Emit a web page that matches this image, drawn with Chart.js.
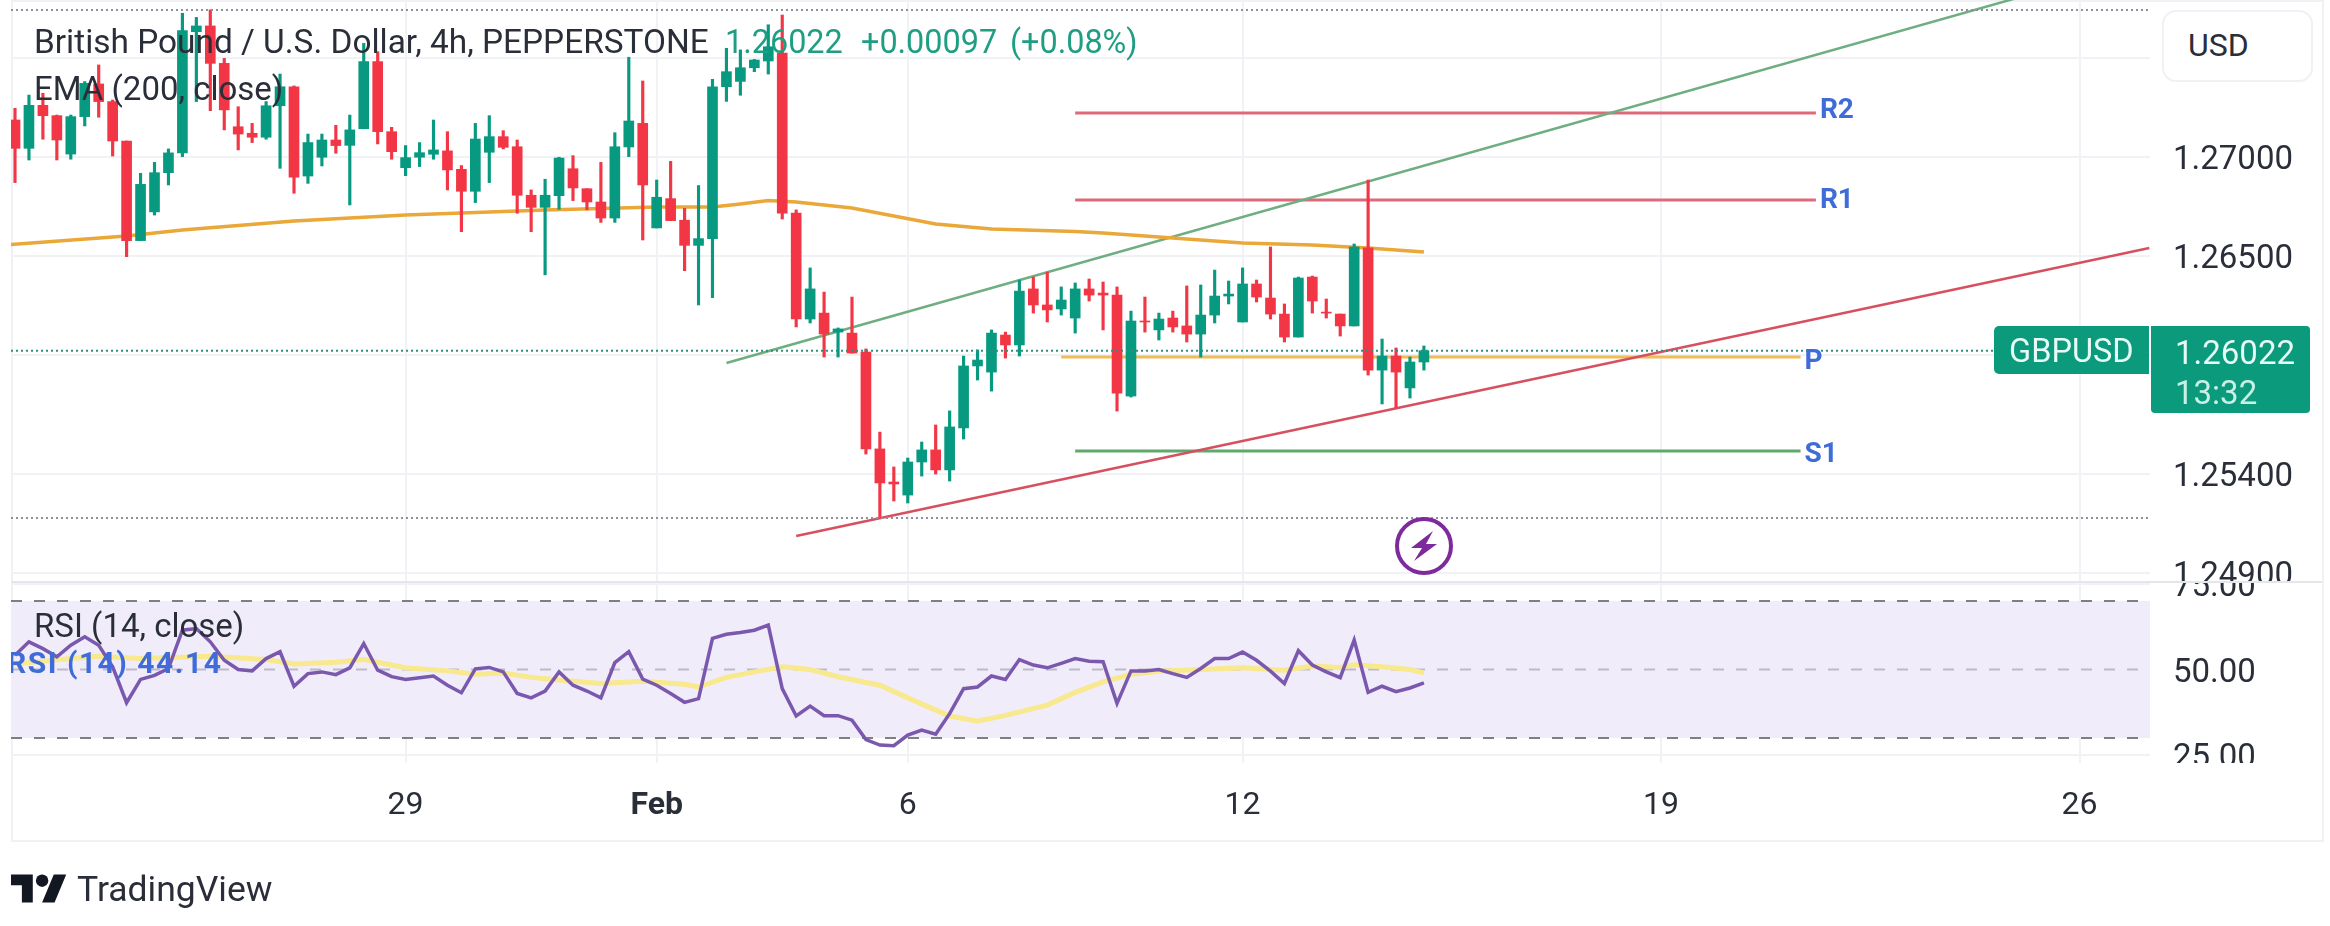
<!DOCTYPE html>
<html><head><meta charset="utf-8">
<script src="https://cdn.jsdelivr.net/npm/chart.js@4"></script>
<style>
html,body{margin:0;padding:0;background:#fff;width:2330px;height:926px;overflow:hidden}
#wrap{position:relative;width:2330px;height:926px;font-family:Roboto,sans-serif;color:#2a2e39;filter:blur(.6px)}
canvas{position:absolute;left:0}
.t{position:absolute;white-space:nowrap;line-height:1}
</style></head><body><div id="wrap">
<div style="position:absolute;left:11px;top:0;width:2309px;height:838px;border:2px solid #f0f1f5"></div>
<canvas id="price" width="2330" height="582" style="top:0"></canvas>
<canvas id="rsi" width="2330" height="257" style="top:582px"></canvas>
<div style="position:absolute;left:11px;top:581px;width:2311px;height:2px;background:#e4e6ec"></div>
<div class="t" style="left:34px;top:25px;font-size:33.4px">British Pound / U.S. Dollar, 4h, PEPPERSTONE</div>
<div class="t" style="left:725px;top:26px;font-size:32.4px;color:#1f9e83">1.26022</div>
<div class="t" style="left:861px;top:26px;font-size:32.4px;color:#1f9e83">+0.00097</div>
<div class="t" style="left:1010px;top:26px;font-size:32.4px;color:#1f9e83">(+0.08%)</div>
<div class="t" style="left:34px;top:72px;font-size:33px">EMA (200, close)</div>
<div class="t" style="left:34px;top:609px;font-size:33px">RSI (14, close)</div>
<div style="position:absolute;left:11px;top:640px;width:240px;height:46px;overflow:hidden"><div class="t" style="left:-4px;top:8px;font-size:30px;font-weight:700;color:#3f6cd8;letter-spacing:1.5px">RSI (14) 44.14</div></div>
<div style="position:absolute;left:2162px;top:10px;width:147px;height:68px;border:2px solid #f0f1f5;border-radius:14px;background:#fff"></div>
<div class="t" style="left:2188px;top:29px;font-size:32px">USD</div>
<div style="position:absolute;left:1994px;top:326px;width:155px;height:48px;background:#0b9a7c;border-radius:5px 0 0 5px"></div>
<div class="t" style="left:2009px;top:335px;font-size:32.5px;color:#e6fbf5">GBPUSD</div>
<div style="position:absolute;left:2151px;top:326px;width:159px;height:87px;background:#0b9a7c;border-radius:0 4px 4px 4px"></div>
<div class="t" style="left:2175px;top:336px;font-size:33px;color:#e6fbf5">1.26022</div>
<div class="t" style="left:2175px;top:376px;font-size:33px;color:#c9f0e6">13:32</div>
<svg style="position:absolute;left:1392px;top:514px" width="64" height="64" viewBox="-32 -32 64 64">
<circle cx="0" cy="0" r="27" fill="#fff" stroke="#7d2a9c" stroke-width="4"/>
<path d="M9 -15 L-13 2 L-2 2 L-10 15 L13 -2 L2 -2 Z" fill="#7d2a9c"/></svg>
<svg style="position:absolute;left:11px;top:868px" width="56" height="44" viewBox="0 0 36 28"><path fill="#131722" d="M14 22H7V11H0V4h14v18zM28 22h-8l7.5-18h8L28 22z"/><circle fill="#131722" cx="20" cy="8" r="4"/></svg>
<div class="t" style="left:77px;top:872px;font-size:35.5px;color:#2a2e39">TradingView</div>
</div>
<script>
const opens=[1.27187,1.27044,1.27261,1.27209,1.27015,1.27204,1.27369,1.27280,1.27081,1.26578,1.26723,1.26921,1.27021,1.27633,1.27662,1.27473,1.27153,1.27120,1.27100,1.27259,1.27355,1.26904,1.26999,1.27086,1.27059,1.27143,1.27482,1.27128,1.26946,1.26999,1.27014,1.27031,1.26938,1.26827,1.27024,1.27103,1.27052,1.26807,1.26746,1.26805,1.26941,1.26840,1.26773,1.26692,1.27051,1.27170,1.26642,1.26790,1.26681,1.26554,1.26588,1.27355,1.27382,1.27451,1.27485,1.27525,1.26717,1.26182,1.26212,1.26116,1.26111,1.26015,1.25526,1.25359,1.25293,1.25460,1.25521,1.25420,1.25632,1.25945,1.25914,1.26101,1.26051,1.26334,1.26253,1.26233,1.26187,1.26334,1.26313,1.26303,1.25793,1.26172,1.26127,1.26187,1.26147,1.26106,1.26202,1.26298,1.26167,1.26359,1.26288,1.26207,1.26091,1.26394,1.26217,1.26207,1.26147,1.26541,1.25924,1.25995,1.25834,1.25965];
const closes=[1.27044,1.27261,1.27209,1.27086,1.27204,1.27372,1.27280,1.27081,1.26578,1.26862,1.26921,1.27021,1.27638,1.27662,1.27473,1.27238,1.27116,1.27100,1.27259,1.27355,1.26898,1.27073,1.27086,1.27058,1.27137,1.27482,1.27128,1.27027,1.26997,1.27022,1.27036,1.26935,1.26827,1.27091,1.27103,1.27049,1.26807,1.26746,1.26807,1.26995,1.26844,1.26773,1.26692,1.27052,1.27182,1.26859,1.26797,1.26679,1.26554,1.26588,1.27355,1.27431,1.27451,1.27490,1.27557,1.26717,1.26182,1.26334,1.26106,1.26132,1.26010,1.25526,1.25354,1.25349,1.25460,1.25521,1.25420,1.25637,1.25945,1.25975,1.26111,1.26051,1.26323,1.26253,1.26228,1.26278,1.26334,1.26303,1.26303,1.25808,1.26172,1.26167,1.26182,1.26142,1.26106,1.26202,1.26298,1.26308,1.26359,1.26293,1.26207,1.26091,1.26389,1.26273,1.26212,1.26147,1.26546,1.25924,1.25995,1.25914,1.25965,1.26022];
const highs=[1.27246,1.27313,1.27322,1.27212,1.27212,1.27381,1.27465,1.27288,1.27081,1.26918,1.26973,1.27041,1.27726,1.27705,1.27743,1.27498,1.27254,1.27170,1.27280,1.27419,1.27359,1.27116,1.27116,1.27160,1.27212,1.27574,1.27532,1.27150,1.27058,1.27073,1.27187,1.27128,1.26957,1.27170,1.27209,1.27133,1.27086,1.26834,1.26888,1.26999,1.27007,1.26840,1.26973,1.27123,1.27504,1.27384,1.26884,1.26978,1.26741,1.26856,1.27392,1.27549,1.27541,1.27493,1.27668,1.27717,1.26733,1.26440,1.26318,1.26137,1.26293,1.26031,1.25611,1.25435,1.25480,1.25561,1.25647,1.25718,1.25995,1.26026,1.26127,1.26116,1.26379,1.26394,1.26419,1.26344,1.26364,1.26384,1.26369,1.26344,1.26222,1.26293,1.26212,1.26222,1.26349,1.26354,1.26429,1.26374,1.26440,1.26379,1.26546,1.26258,1.26394,1.26399,1.26283,1.26207,1.26561,1.26884,1.26081,1.26036,1.25990,1.26046];
const lows=[1.26871,1.26985,1.27090,1.26985,1.26989,1.27157,1.27201,1.27005,1.26497,1.26578,1.26707,1.26859,1.27002,1.27280,1.27234,1.27137,1.27036,1.27073,1.27090,1.26943,1.26817,1.26867,1.26955,1.27019,1.26758,1.27143,1.27066,1.26989,1.26906,1.26952,1.26989,1.26834,1.26623,1.26770,1.26871,1.27041,1.26716,1.26623,1.26405,1.26736,1.26780,1.26733,1.26670,1.26670,1.27002,1.26581,1.26642,1.26679,1.26426,1.26253,1.26290,1.27281,1.27312,1.27431,1.27419,1.26687,1.26142,1.26162,1.25990,1.25990,1.26010,1.25500,1.25182,1.25263,1.25253,1.25389,1.25399,1.25364,1.25576,1.25874,1.25818,1.25985,1.25995,1.26212,1.26167,1.26202,1.26111,1.26273,1.26127,1.25717,1.25788,1.26116,1.26076,1.26116,1.26066,1.25990,1.26162,1.26258,1.26167,1.26268,1.26182,1.26066,1.26091,1.26212,1.26187,1.26096,1.26147,1.25899,1.25753,1.25733,1.25783,1.25924];
const emaIdx=[-0.3,8,12,20,28,38,46,50,52,54,56,60,66,70,76,78,83,88,93,97,101];
const emaVals=[1.26558,1.26601,1.26631,1.26677,1.26707,1.26733,1.26748,1.26748,1.26763,1.26781,1.26773,1.26743,1.26662,1.26637,1.26624,1.26616,1.26591,1.26566,1.26556,1.26541,1.26520];
const rsiVals=[54.2,58.1,56.1,53.7,57.1,59.6,57.1,50.8,40.3,47.1,48.3,50.3,61.5,62.0,58.1,52.7,50.0,49.6,53.2,55.2,45.1,48.8,49.3,48.5,50.5,57.6,49.8,47.9,47.1,47.6,48.1,45.4,43.2,50.2,50.6,49.3,43.0,41.7,43.7,49.3,45.4,43.7,41.7,52.0,55.2,47.2,45.4,43.0,40.4,41.5,59.1,60.3,60.8,61.5,63.0,44.4,36.4,39.3,36.5,36.5,35.2,29.5,27.9,27.7,30.8,32.3,31.1,37.1,44.4,44.9,48.1,47.1,52.9,51.3,50.5,51.8,53.2,52.4,52.3,40.1,49.6,49.6,50.0,48.8,47.7,50.3,53.2,53.2,55.1,52.7,49.5,45.9,55.5,51.3,49.3,47.6,58.6,43.3,45.1,43.5,44.6,46.1];
const rsiMaIdx=[-0.3,4,6,9,14,18,20,23,25,28,31,33,35,37,39,42,45,48,49,51,53,55,57,59,62,64,67,69,71,74,76,78,80,82,85,88,91,93,95,96,98,100,101];
const rsiMaVals=[51.5,53.2,53.9,53.2,53.9,52.9,51.6,52.1,52.9,50.5,49.6,48.6,49.0,47.7,46.9,45.9,46.6,45.7,44.9,47.7,49.3,50.8,50.0,47.9,45.4,41.7,36.4,34.9,36.6,39.6,43.3,46.4,48.6,49.5,50.0,50.5,49.8,51.0,50.6,51.4,50.8,50.0,49.0];
const pivotNames=['R2','R1','P','S1'];
const pivotVals=[1.27222,1.26783,1.25990,1.25516];
const pivotFrom=[76,76,75,76];
const pivotTo=[129.1,129.1,128,128];
const channelIdx=[51,144];
const channelVals=[1.25960,1.27813];
const supportIdx=[56,153];
const supportVals=[1.25086,1.26541];
const dottedVals=[1.27742,1.26022,1.25177];
const priceTicks=[1.275,1.27,1.265,1.26,1.254,1.249];
const priceLabels=['','1.27000','1.26500','','1.25400','1.24900'];
const rsiTicks=[75,50,25];
const rsiLabels=['75.00','50.00','25.00'];
const bandVals=[70,50,30];
const dayIdx=[28,46,64,88,118,148];
const dayLabels=['29','Feb','6','12','19','26'];

const XMIN=-0.287,XMAX=153.05,UP='#089981',DOWN='#f23645';
const colors=opens.map((o,i)=>closes[i]>=o?UP:DOWN);
const seg=(xs,ys)=>xs.map((x,i)=>({x,y:ys[i]}));
const line=(data,color,w,extra)=>Object.assign({type:'line',data,borderColor:color,borderWidth:w,pointRadius:0,tension:0,order:3},extra||{});
const bar=(lo,hi,w)=>({type:'bar',grouped:false,data:lo.map((l,i)=>({x:i,y:[l,hi[i]]})),backgroundColor:colors,borderWidth:0,barPercentage:1,categoryPercentage:1,maxBarThickness:w,order:1});
const bodyLo=opens.map((o,i)=>Math.min(o,closes[i])),bodyHi=opens.map((o,i)=>Math.max(o,closes[i]));
const grid={color:'#f1f2f6',drawTicks:false,lineWidth:2,offset:false};
const tick={color:'#2a2e39',font:{family:'Roboto',size:33},padding:23,labelOffset:4,autoSkip:false,maxRotation:0};
const yFit=a=>{a.width=180;a.paddingTop=0;a.paddingBottom=0};
const pivotColors=['#dd6a78','#dd6a78','#f0bc58','#5fa96c'];
const pivotTextShift=[-2,1,5,4];
const pivotDs=pivotNames.map((nm,i)=>line([{x:pivotFrom[i],y:pivotVals[i]},{x:pivotTo[i],y:pivotVals[i]}],pivotColors[i],3));
const dottedColors=['#8b909a','#2f8f7c','#8b909a'];
const dottedDs=dottedVals.map((v,i)=>line([{x:XMIN,y:v},{x:XMAX,y:v}],dottedColors[i],2,{borderDash:[2,3],order:0}));
const pivotText={id:'pivotText',afterDatasetsDraw(c){const g=c.ctx;g.save();g.font='700 28px Roboto';g.fillStyle='#3f6cd8';g.textBaseline='middle';
 pivotNames.forEach((nm,i)=>g.fillText(nm,c.scales.x.getPixelForValue(pivotTo[i])+4,c.scales.y.getPixelForValue(pivotVals[i])+pivotTextShift[i]));g.restore();}};

new Chart(document.getElementById('price'),{
 data:{datasets:[
  line(seg(emaIdx,emaVals),'#e9a838',3.5),
  line(seg(channelIdx,channelVals),'#6fae80',2.5),
  line(seg(supportIdx,supportVals),'#d6505f',2.5),
  ...pivotDs,...dottedDs,
  bar(lows,highs,2.5),bar(bodyLo,bodyHi,10)]},
 options:{responsive:false,animation:false,devicePixelRatio:1,layout:{padding:{left:11,right:0,top:0,bottom:0}},
  plugins:{legend:{display:false},tooltip:{enabled:false}},
  scales:{
   x:{type:'linear',offset:false,min:XMIN,max:XMAX,grid,border:{display:false},ticks:{display:false},afterBuildTicks:a=>{a.ticks=dayIdx.map(v=>({value:v}))},afterFit:a=>{a.height=0;a.paddingLeft=0;a.paddingRight=0}},
   y:{position:'right',min:1.24854,max:1.27793,grid,border:{display:false},ticks:Object.assign({},tick,{callback:v=>{const i=priceTicks.indexOf(v);return i<0?'':priceLabels[i]}}),afterBuildTicks:a=>{a.ticks=priceTicks.map(v=>({value:v}))},afterFit:yFit}
  }},
 plugins:[pivotText]});

const clearTail={id:'clearTail',afterDraw(c){c.ctx.clearRect(2150,c.chartArea.bottom,180,34)}};
new Chart(document.getElementById('rsi'),{
 data:{datasets:[
  line([{x:XMIN,y:bandVals[0]},{x:XMAX,y:bandVals[0]}],'#7f7f7f',2,{borderDash:[11,12],fill:{target:{value:bandVals[2]}},backgroundColor:'#f0ecfa',order:6}),
  line([{x:XMIN,y:bandVals[1]},{x:XMAX,y:bandVals[1]}],'#bdbac6',2,{borderDash:[11,12],order:5}),
  line([{x:XMIN,y:bandVals[2]},{x:XMAX,y:bandVals[2]}],'#7f7f7f',2,{borderDash:[11,12],order:5}),
  line(seg(rsiMaIdx,rsiMaVals),'#f8e88e',5,{order:2}),
  line(opens.map((_,i)=>({x:i,y:rsiVals[i]})),'#7a58ad',3.5,{order:1})]},
 options:{responsive:false,animation:false,devicePixelRatio:1,layout:{padding:{left:11,right:0,top:0,bottom:0}},
  plugins:{legend:{display:false},tooltip:{enabled:false}},
  scales:{
   x:{type:'linear',offset:false,min:XMIN,max:XMAX,grid,border:{display:false},
      ticks:{color:'#2a2e39',padding:24,autoSkip:false,maxRotation:0,font:c=>({family:'Roboto',size:32,weight:c.tick&&c.tick.value===46?'700':'400'}),callback:v=>dayLabels[dayIdx.indexOf(v)]},
      afterBuildTicks:a=>{a.ticks=dayIdx.map(v=>({value:v}))},afterFit:a=>{a.height=76;a.paddingLeft=0;a.paddingRight=0}},
   y:{position:'right',min:22.66,max:75.59,grid,border:{display:false},ticks:Object.assign({},tick,{callback:v=>rsiLabels[rsiTicks.indexOf(v)]}),afterBuildTicks:a=>{a.ticks=rsiTicks.map(v=>({value:v}))},afterFit:yFit}
  }},
 plugins:[clearTail]});
</script></body></html>
